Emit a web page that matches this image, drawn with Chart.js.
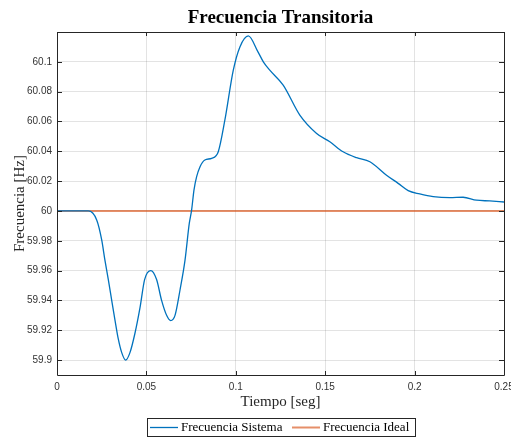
<!DOCTYPE html>
<html>
<head>
<meta charset="utf-8">
<script src="https://cdn.jsdelivr.net/npm/chart.js@4.4.1/dist/chart.umd.min.js"></script>
<style>
  html, body { margin: 0; padding: 0; background: #fff; }
  #wrap { width: 511px; height: 437px; }
</style>
</head>
<body>
<div id="wrap"><canvas id="myChart" width="511" height="437"></canvas></div>
<script>
// tiempo [seg] y frecuencia [Hz]
const tiempo = [0, 0.010, 0.0175, 0.0222, 0.025, 0.0268, 0.0287, 0.0306, 0.0324, 0.0343,
  0.0362, 0.0384, 0.0408, 0.0436, 0.0464, 0.0490, 0.0525, 0.0557, 0.0585, 0.0613,
  0.0636, 0.066, 0.0688, 0.0716, 0.074, 0.0753, 0.0766, 0.0781, 0.080, 0.0827,
  0.0865, 0.0902, 0.0939, 0.0986, 0.1023, 0.107, 0.1124, 0.1154, 0.119, 0.1265,
  0.1358, 0.1452, 0.1526, 0.160, 0.1676, 0.175, 0.1843, 0.1908, 0.1964, 0.2029,
  0.2104, 0.2197, 0.2271, 0.2346, 0.242, 0.25];
const frecSistema = [60, 60, 60, 59.994, 59.9806, 59.967, 59.954, 59.940, 59.927, 59.914,
  59.905, 59.900, 59.905, 59.918, 59.935, 59.954, 59.960, 59.954, 59.940, 59.930,
  59.9265, 59.930, 59.947, 59.967, 59.9918, 60.0007, 60.014, 60.023, 60.0297, 60.0342,
  60.0353, 60.0397, 60.061, 60.0944, 60.110, 60.1174, 60.1067, 60.100, 60.0944, 60.0844,
  60.0643, 60.052, 60.0464, 60.0397, 60.0357, 60.033, 60.024, 60.0185, 60.0136, 60.0114,
  60.0096, 60.0089, 60.0092, 60.0072, 60.0067, 60.006];
const tiempoIdeal = [0, 0.25];
const frecIdeal = [60, 60];

const xTicks = [0, 0.05, 0.1, 0.15, 0.2, 0.25];
const yTicks = [59.9, 59.92, 59.94, 59.96, 59.98, 60, 60.02, 60.04, 60.06, 60.08, 60.1];

const azul = '#0072BD';
const naranja = 'rgba(217,83,25,0.65)';
const gris = '#262626';

const toXY = (xs, ys) => xs.map((x, i) => ({ x: x, y: ys[i] }));
const fmt = v => String(parseFloat(Number(v).toFixed(2)));

// marco, ticks internos, titulos y leyenda al estilo MATLAB
const matlabDeco = {
  id: 'matlabDeco',
  afterDraw(chart) {
    const ctx = chart.ctx;
    const a = chart.chartArea;
    const xs = chart.scales.x, ys = chart.scales.y;
    ctx.save();
    ctx.strokeStyle = gris;
    ctx.lineWidth = 1;
    ctx.beginPath();
    ctx.rect(Math.round(a.left) + 0.5, Math.round(a.top) + 0.5,
      Math.round(a.right - a.left), Math.round(a.bottom - a.top));
    ctx.stroke();
    ctx.beginPath();
    xTicks.forEach(v => {
      const px = Math.round(xs.getPixelForValue(v)) + 0.5;
      ctx.moveTo(px, a.top); ctx.lineTo(px, a.top + 4);
      ctx.moveTo(px, a.bottom); ctx.lineTo(px, a.bottom - 4);
    });
    yTicks.forEach(v => {
      const py = Math.round(ys.getPixelForValue(v)) + 0.5;
      ctx.moveTo(a.left, py); ctx.lineTo(a.left + 5, py);
      ctx.moveTo(a.right, py); ctx.lineTo(a.right - 5, py);
    });
    ctx.stroke();

    const cx = (a.left + a.right) / 2;
    ctx.fillStyle = '#000';
    ctx.textAlign = 'center';
    ctx.textBaseline = 'middle';
    ctx.font = 'bold 19px "Liberation Serif"';
    ctx.fillText('Frecuencia Transitoria', cx, 18);

    ctx.fillStyle = gris;
    ctx.font = '15px "Liberation Serif"';
    ctx.fillText('Tiempo [seg]', cx, 402);
    ctx.save();
    ctx.translate(20, (a.top + a.bottom) / 2);
    ctx.rotate(-Math.PI / 2);
    ctx.fillText('Frecuencia [Hz]', 0, 0);
    ctx.restore();

    // leyenda
    const bx = 147, by = 418, bw = 269, bh = 19;
    ctx.fillStyle = '#fff';
    ctx.fillRect(bx, by, bw, bh);
    ctx.strokeStyle = gris;
    ctx.lineWidth = 1;
    ctx.strokeRect(bx + 0.5, by + 0.5, bw - 1, bh - 1);
    const ly = by + bh / 2;
    ctx.lineWidth = 1.3;
    ctx.strokeStyle = azul;
    ctx.beginPath(); ctx.moveTo(150, ly); ctx.lineTo(178, ly); ctx.stroke();
    ctx.lineWidth = 2;
    ctx.strokeStyle = naranja;
    ctx.beginPath(); ctx.moveTo(292, ly); ctx.lineTo(320, ly); ctx.stroke();
    ctx.fillStyle = '#000';
    ctx.textAlign = 'left';
    ctx.font = '13px "Liberation Serif"';
    ctx.fillText('Frecuencia Sistema', 181, ly + 0.5);
    ctx.fillText('Frecuencia Ideal', 323, ly + 0.5);
    ctx.restore();
  }
};

const myChart = new Chart(document.getElementById('myChart').getContext('2d'), {
  type: 'scatter',
  data: {
    datasets: [{
      label: 'Frecuencia Sistema',
      data: toXY(tiempo, frecSistema),
      showLine: true,
      borderColor: azul,
      borderWidth: 1.3,
      pointRadius: 0,
      cubicInterpolationMode: 'monotone'
    }, {
      label: 'Frecuencia Ideal',
      data: toXY(tiempoIdeal, frecIdeal),
      showLine: true,
      borderColor: naranja,
      borderWidth: 2,
      pointRadius: 0
    }]
  },
  options: {
    responsive: false,
    animation: false,
    layout: { padding: { top: 32, right: 7, bottom: 0, left: 0 } },
    plugins: { legend: { display: false }, title: { display: false }, tooltip: { enabled: false } },
    scales: {
      x: {
        type: 'linear',
        min: 0, max: 0.25,
        afterBuildTicks: s => { s.ticks = xTicks.map(v => ({ value: v })); },
        afterFit: s => { s.height = 62; s.paddingLeft = 0; s.paddingRight = 0; },
        grid: { color: 'rgba(38,38,38,0.13)', drawTicks: false },
        border: { display: false },
        ticks: {
          color: '#333', padding: 6, maxRotation: 0, autoSkip: false,
          font: { family: '"Liberation Sans"', size: 10 },
          callback: v => fmt(v)
        }
      },
      y: {
        type: 'linear',
        min: 59.89, max: 60.12,
        afterBuildTicks: s => { s.ticks = yTicks.map(v => ({ value: v })); },
        afterFit: s => { s.width = 57; s.paddingTop = 0; s.paddingBottom = 0; },
        grid: { color: 'rgba(38,38,38,0.13)', drawTicks: false },
        border: { display: false },
        ticks: {
          color: '#333', padding: 5, autoSkip: false,
          font: { family: '"Liberation Sans"', size: 10 },
          callback: v => fmt(v)
        }
      }
    }
  },
  plugins: [matlabDeco]
});
</script>
</body>
</html>
